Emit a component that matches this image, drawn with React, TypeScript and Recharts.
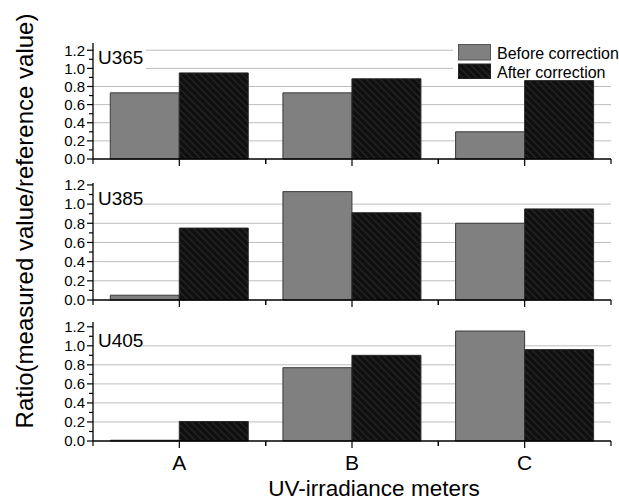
import React from 'react';
import { BarChart, Bar, XAxis, YAxis, CartesianGrid } from 'recharts';

const METERS = ['A', 'B', 'C'];
const SERIES = ['Before correction', 'After correction'];

const U365_BEFORE = [0.73, 0.73, 0.3];
const U365_AFTER = [0.95, 0.885, 0.865];
const U385_BEFORE = [0.05, 1.13, 0.8];
const U385_AFTER = [0.75, 0.91, 0.95];
const U405_BEFORE = [0.008, 0.77, 1.155];
const U405_AFTER = [0.205, 0.9, 0.96];

const Y_TICKS = [0, 0.1, 0.2, 0.3, 0.4, 0.5, 0.6, 0.7, 0.8, 0.9, 1.0, 1.1, 1.2];
const GRID_TOP = [0.2, 0.4, 0.6, 0.8, 1.0, 1.2];
const GRID_LOWER = [0.2, 0.4, 0.6, 0.8, 1.0];

const FONT = '"Liberation Sans", Arial, sans-serif';
const BEFORE_FILL = '#808080';
const AFTER_FILL = 'url(#hatch)';

function YTick({ x, y, payload }: any) {
  const major = Math.round(payload.value * 10) % 2 === 0;
  return (
    <g>
      <line x1={x - (major ? 6 : 4)} x2={x} y1={y} y2={y} stroke="#000" strokeWidth={1.2} />
      {major && (
        <text x={x - 8} y={y} dy="0.36em" textAnchor="end" fontSize={15} fontFamily={FONT} fill="#000">
          {payload.value.toFixed(1)}
        </text>
      )}
    </g>
  );
}

function makeXTick(showLabel: boolean) {
  return ({ x, y, payload }: any) => {
    const half = payload.offset || 0;
    return (
      <g>
        <line x1={x} x2={x} y1={y} y2={y + 7} stroke="#000" strokeWidth={1.2} />
        <line x1={x - half} x2={x - half} y1={y} y2={y + 5} stroke="#000" strokeWidth={1.2} />
        <line x1={x + half} x2={x + half} y1={y} y2={y + 5} stroke="#000" strokeWidth={1.2} />
        {showLabel && (
          <text x={x} y={y + 29} textAnchor="middle" fontSize={21} fontFamily={FONT} fill="#000">
            {payload.value}
          </text>
        )}
      </g>
    );
  };
}

type PanelProps = {
  before: number[];
  after: number[];
  grid: number[];
  yMax: number;
  top: number;
  height: number;
  marginTop: number;
  xHeight: number;
  showLabels: boolean;
};

function Panel({ before, after, grid, yMax, top, height, marginTop, xHeight, showLabels }: PanelProps) {
  const data = METERS.map((m, i) => ({ meter: m, before: before[i], after: after[i] }));
  return (
    <div style={{ position: 'absolute', left: 0, top }}>
      <BarChart
        width={619}
        height={height}
        data={data}
        margin={{ top: marginTop, right: 8, bottom: 0, left: 0 }}
        barCategoryGap="10%"
        barGap={0}
      >
        <CartesianGrid vertical={false} horizontalValues={grid} stroke="#bdbdbd" strokeWidth={1} />
        <XAxis
          dataKey="meter"
          height={xHeight}
          tickSize={0}
          tickMargin={0}
          axisLine={{ stroke: '#000', strokeWidth: 1.3 }}
          tick={makeXTick(showLabels)}
          interval={0}
        />
        <YAxis
          width={93}
          type="number"
          domain={[0, yMax]}
          ticks={Y_TICKS}
          interval={0}
          tickSize={0}
          tickMargin={0}
          axisLine={{ stroke: '#000', strokeWidth: 1.3 }}
          tick={<YTick />}
        />
        <Bar dataKey="before" name={SERIES[0]} fill={BEFORE_FILL} stroke="#3a3a3a" strokeWidth={1} isAnimationActive={false} />
        <Bar dataKey="after" name={SERIES[1]} fill={AFTER_FILL} stroke="#2a2a2a" strokeWidth={1} isAnimationActive={false} />
      </BarChart>
    </div>
  );
}

export default function App() {
  return (
    <div style={{ position: 'absolute', left: 0, top: 0, width: 619, height: 501, background: '#fff', fontFamily: FONT }}>
      <svg width={0} height={0} style={{ position: 'absolute' }}>
        <defs>
          <pattern id="hatch" width={7} height={7} patternUnits="userSpaceOnUse">
            <rect width={7} height={7} fill="#101010" />
            <path d="M0,0 L7,7 M-1,6 L1,8 M6,-1 L8,1" stroke="#262626" strokeWidth={1.2} />
          </pattern>
        </defs>
      </svg>
      <Panel before={U365_BEFORE} after={U365_AFTER} grid={GRID_TOP} yMax={1.28} top={0} height={175} marginTop={43} xHeight={16} showLabels={false} />
      <Panel before={U385_BEFORE} after={U385_AFTER} grid={GRID_LOWER} yMax={1.22} top={175} height={140} marginTop={8} xHeight={15} showLabels={false} />
      <Panel before={U405_BEFORE} after={U405_AFTER} grid={GRID_LOWER} yMax={1.25} top={315} height={186} marginTop={7} xHeight={60} showLabels />
      <svg width={619} height={501} style={{ position: 'absolute', left: 0, top: 0, pointerEvents: 'none' }}>
        <rect x={94} y={43} width={52} height={28} fill="#fff" />
        <text x={98} y={64} fontSize={19} fontFamily={FONT} fill="#000">U365</text>
        <rect x={94} y={184} width={46} height={26} fill="#fff" />
        <text x={98} y={205} fontSize={19} fontFamily={FONT} fill="#000">U385</text>
        <rect x={94} y={325} width={48} height={26} fill="#fff" />
        <text x={98} y={347} fontSize={19} fontFamily={FONT} fill="#000">U405</text>

        <rect x={453} y={42} width={166} height={37} fill="#fff" />
        <rect x={458.5} y={44.5} width={32} height={15.5} fill={BEFORE_FILL} stroke="#555" strokeWidth={1} />
        <rect x={458.5} y={64} width={32} height={14.5} fill={AFTER_FILL} stroke="#222" strokeWidth={1} />
        <text x={497} y={59} fontSize={16} fontFamily={FONT} fill="#000">{SERIES[0]}</text>
        <text x={497} y={77.5} fontSize={16} fontFamily={FONT} fill="#000">{SERIES[1]}</text>

        <text
          x={33}
          y={221}
          transform="rotate(-90 33 221)"
          textAnchor="middle"
          fontSize={24}
          fontFamily={FONT}
          fill="#000"
        >
          Ratio(measured value/reference value)
        </text>
        <text x={374} y={496} textAnchor="middle" fontSize={22.5} fontFamily={FONT} fill="#000">
          UV-irradiance meters
        </text>
      </svg>
    </div>
  );
}
